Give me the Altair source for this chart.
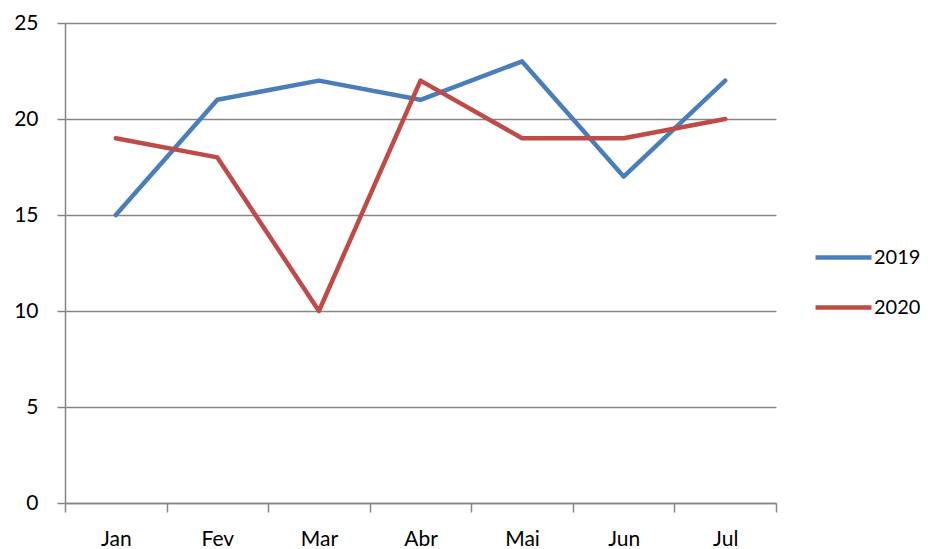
import altair as alt
import pandas as pd

months = ["Jan", "Fev", "Mar", "Abr", "Mai", "Jun", "Jul"]
vals_2019 = [15, 21, 22, 21, 23, 17, 22]
vals_2020 = [19, 18, 10, 22, 19, 19, 20]
years = ["2019", "2020"]

df = pd.DataFrame({
    "mes": months * 2,
    "valor": vals_2019 + vals_2020,
    "ano": [years[0]] * len(months) + [years[1]] * len(months),
})

grey = "#868686"
font = "Lato"

chart = alt.Chart(df).mark_line(strokeWidth=4.5, strokeCap="round", strokeJoin="round").encode(
    x=alt.X("mes:O", sort=months, bandPosition=0.5, title=None,
            scale=alt.Scale(type="band", paddingInner=0, paddingOuter=0),
            axis=alt.Axis(tickBand="extent", labelAngle=0, grid=False,
                          domainColor=grey, domainWidth=1.5, tickColor=grey, tickWidth=1.5,
                          tickSize=9, labelPadding=16, labelFont=font, labelFontSize=21,
                          labelColor="black")),
    y=alt.Y("valor:Q", scale=alt.Scale(domain=[0, 25], nice=False), title=None,
            axis=alt.Axis(values=[0, 5, 10, 15, 20, 25], tickSize=8, labelPadding=19,
                          domainColor=grey, domainWidth=1.5, tickColor=grey, tickWidth=1.5,
                          gridColor=grey, gridWidth=1.5, labelFont=font, labelFontSize=21,
                          labelColor="black")),
    color=alt.Color("ano:N", scale=alt.Scale(domain=years, range=["#4A7EBB", "#BE4B48"]),
                    legend=alt.Legend(title=None, orient="none", legendX=748, legendY=204,
                                      symbolType="stroke", symbolSize=3136, symbolStrokeWidth=4.5,
                                      padding=0, rowPadding=9, labelOffset=0,
                                      labelFont=font, labelFontSize=20, labelColor="black")),
).properties(
    width=711, height=480, autosize="none",
    padding={"left": 57, "top": 15, "right": 147, "bottom": 50},
).configure_view(stroke=None)

chart.save("out.html", embed_options={"renderer": "svg", "actions": False})
